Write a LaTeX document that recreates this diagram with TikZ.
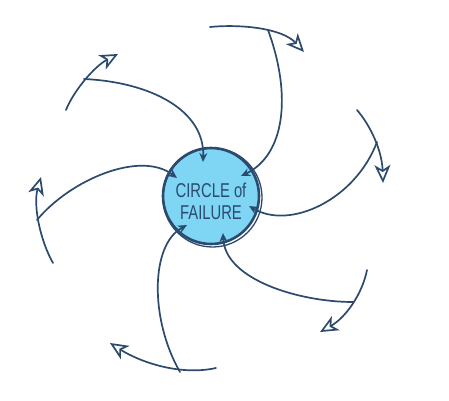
\documentclass[tikz,border=0pt]{standalone}
\usepackage{fontspec}
\setmainfont{Liberation Sans}
\usetikzlibrary{arrows.meta}
\definecolor{inkblue}{HTML}{2B4A6E}
\definecolor{skyfill}{HTML}{7ED6F4}

\begin{document}
\begin{tikzpicture}[x=1pt,y=-1pt,
  arm/.style={inkblue,line width=1.7pt,line cap=round},
  outer/.style={arm,-{Stealth[open,length=18pt,width=16pt,inset=5pt,line width=1.7pt]}},
  inner/.style={arm,-{Stealth[length=9pt,width=8pt]}}]
  \useasboundingbox (0,0) rectangle (449,400);
  % circle
  \node[circle,fill=skyfill,minimum size=96pt,inner sep=0pt] (circ) at (211,196) {};
  \draw[inkblue,line width=2.6pt] (circ) circle (48);
  \draw[inkblue,line width=1.3pt] ([shift={(1.5,1.5)}]circ.center) circle (49.5);
  \node[inkblue,align=center,font=\fontsize{20}{22}\selectfont] (lbl) at (211,201)
    {\scalebox{0.74}[1]{CIRCLE of}\\\scalebox{0.74}[1]{FAILURE}};
  % arm 1, top left
  \coordinate (a1) at (84,79);
  \draw[outer] (66,110) .. controls (74,90) and (95,66) .. (118,54);
  \draw[inner] (a1) .. controls (150,82) and (205,110) .. (203,162);
  % arm 2, top
  \coordinate (a2) at (268,30);
  \draw[outer] (210,27) .. controls (240,24) and (282,28) .. (304,52);
  \draw[inner] (a2) .. controls (292,95) and (285,155) .. (241,176);
  % arm 3, right
  \coordinate (a3) at (377,142);
  \draw[outer] (357,110) .. controls (370,125) and (382,150) .. (383,183);
  \draw[inner] (a3) .. controls (355,200) and (290,230) .. (249,206);
  % arm 4, bottom right
  \coordinate (a4) at (353,302);
  \draw[outer] (367,270) .. controls (362,295) and (345,318) .. (320,332);
  \draw[inner] (a4) .. controls (300,302) and (225,280) .. (223,233);
  % arm 5, bottom left
  \coordinate (a5) at (180,372);
  \draw[outer] (216,368) .. controls (180,376) and (140,362) .. (110,343);
  \draw[inner] (a5) .. controls (150,320) and (150,245) .. (187,225);
  % arm 6, left
  \coordinate (a6) at (37,220);
  \draw[outer] (53,263) .. controls (40,240) and (33,205) .. (41,177);
  \draw[inner] (a6) .. controls (70,180) and (140,150) .. (177,178);
\end{tikzpicture}
\end{document}
